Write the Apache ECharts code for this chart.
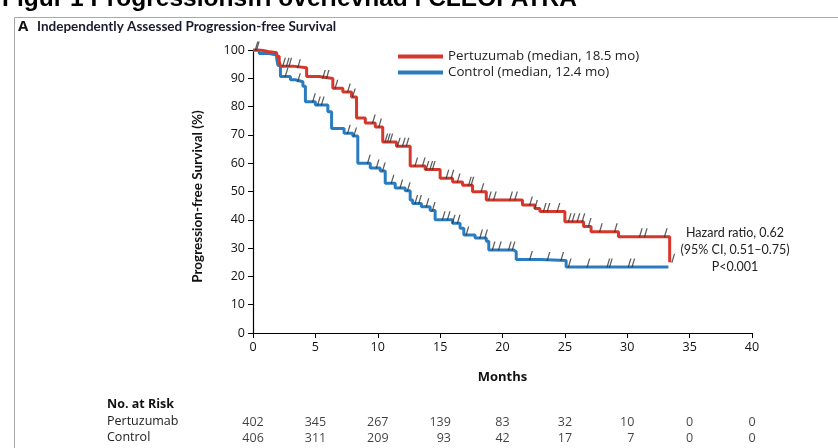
<!DOCTYPE html>
<html><head><meta charset="utf-8">
<script src="https://cdn.jsdelivr.net/npm/echarts@6/dist/echarts.min.js"></script>
<style>html,body{margin:0;padding:0;background:#fff}#c{width:838px;height:448px}</style>
</head><body><div id="c"></div>
<script>
// ---- data ----
const xTicks = [0,5,10,15,20,25,30,35,40];
const yTicks = [0,10,20,30,40,50,60,70,80,90,100];
const pertuzumabKM = [[0,100],[0.6,99.5],[1.2,99.0],[1.9,97.8],[2.1,96.0],[2.2,94.3],[3.2,93.7],[4.3,90.6],[5.3,89.9],[6.4,86.5],[7.2,85.2],[7.9,83.4],[8.3,76.0],[9.0,74.2],[9.8,72.8],[10.4,67.5],[11.5,66.0],[12.6,59.0],[13.8,57.8],[15.0,54.7],[16.0,53.4],[16.8,52.2],[17.6,49.9],[18.7,47.0],[21.6,45.2],[22.6,44.0],[23.0,42.9],[25.0,39.3],[26.5,37.6],[27.1,35.8],[29.3,34.0],[33.4,25.0]];
const controlKM = [[0,100],[0.5,98.8],[1.2,98.2],[1.9,97.0],[2.0,94.5],[2.2,90.6],[3.0,89.5],[3.4,88.8],[4.0,87.2],[4.2,81.7],[5.0,80.6],[6.0,78.2],[6.3,72.3],[7.3,70.6],[8.0,69.6],[8.4,60.0],[9.4,58.3],[10.2,57.2],[10.6,52.9],[11.4,51.2],[12.2,50.3],[12.6,47.0],[12.8,45.8],[13.5,44.6],[14.2,43.3],[14.6,40.0],[16.0,38.8],[16.6,37.0],[16.9,34.6],[17.8,33.6],[18.7,32.4],[18.9,29.3],[20.9,28.7],[21.1,26.0],[23.0,25.6],[25.1,23.3],[33.3,23.3]];
const pertuzumabCensor = [0.3,2.4,2.7,2.9,3.6,5.6,5.9,6.6,7.6,8.0,9.6,10.1,10.6,10.8,11.0,11.6,12.0,12.3,13.0,13.6,13.9,14.2,14.4,15.5,15.9,16.4,17.3,17.5,18.3,18.9,19.3,20.6,21.0,22.2,22.6,23.3,23.6,24.4,25.3,25.6,26.0,26.4,26.9,27.8,29.0,31.0,31.4,33.0,33.6];
const controlCensor = [0.2,2.6,3.6,4.8,5.2,5.5,7.6,8.1,9.2,9.9,10.4,11.1,11.8,12.4,13.0,13.3,13.9,14.4,15.2,15.6,16.0,16.4,17.1,18.2,18.6,19.2,19.7,20.5,20.8,22.2,23.6,24.7,25.3,26.8,28.4,28.6,30.1,30.4];
const riskMonths = [0,5,10,15,20,25,30,35,40];
const riskPertuzumab = [402,345,267,139,83,32,10,0,0];
const riskControl = [406,311,209,93,42,17,7,0,0];
const seriesNames = ['Pertuzumab (median, 18.5 mo)','Control (median, 12.4 mo)'];
const hazardText = ['Hazard ratio, 0.62','(95% CI, 0.51\u20130.75)','P<0.001'];

// ---- helpers ----
function survAt(km, t){ let s = km[0][1]; for (const p of km){ if (p[0] <= t) s = p[1]; } return s; }
const FONT = '"Open Sans"';
const LATO = 'Lato';
const RED = '#d6372b', BLUE = '#2a7cc0';
const tickPath = 'path://M0,10 L1.3,10 L4,0 L2.7,0 Z';
const digitW = 7.2;

const chart = echarts.init(document.getElementById('c'), null, {renderer:'canvas'});
const riskP = riskMonths.map((m,i)=>({value:[m,1.5,riskPertuzumab[i]]}));
const riskC = riskMonths.map((m,i)=>({value:[m,0.5,riskControl[i]],
  label:{offset:[String(riskPertuzumab[i]).length*digitW/2,0]}}));

chart.setOption({
  animation:false,
  textStyle:{fontFamily:FONT},
  grid:[{left:253,top:50,width:499,height:283},{left:253,top:414,width:499,height:32}],
  xAxis:[{type:'value',min:0,max:40,interval:5,gridIndex:0,
    axisLine:{lineStyle:{color:'#000',width:1.2}},axisTick:{length:5,lineStyle:{color:'#000'}},
    axisLabel:{color:'#111',fontSize:12.5,margin:8,fontFamily:FONT},splitLine:{show:false},
    name:'Months',nameLocation:'middle',nameGap:38,nameTextStyle:{fontWeight:'bold',fontSize:13,color:'#111',fontFamily:FONT}},
    {type:'value',min:0,max:40,gridIndex:1,show:false}],
  yAxis:[{type:'value',min:0,max:100,interval:10,gridIndex:0,
    axisLine:{show:true,lineStyle:{color:'#000',width:1.2}},axisTick:{show:true,length:5,lineStyle:{color:'#000'}},
    axisLabel:{color:'#111',fontSize:12.5,margin:8,fontFamily:FONT},splitLine:{show:false},
    name:'Progression-free Survival (%)',nameLocation:'middle',nameRotate:90,nameGap:48,
    nameTextStyle:{fontWeight:'bold',fontSize:13.5,color:'#111',fontFamily:LATO,padding:[0,0,0,-10]}},
    {type:'value',min:0,max:2,gridIndex:1,show:false}],
  legend:{orient:'vertical',left:393,top:45,itemWidth:45,itemHeight:4,itemGap:3,icon:'rect',
    textStyle:{fontSize:13.3,color:'#222',fontFamily:FONT},data:seriesNames},
  series:[
    {name:seriesNames[0],type:'line',step:'end',data:pertuzumabKM,showSymbol:false,lineStyle:{color:RED,width:3},itemStyle:{color:RED},z:3},
    {name:seriesNames[1],type:'line',step:'end',data:controlKM,showSymbol:false,lineStyle:{color:BLUE,width:3},itemStyle:{color:BLUE},z:2},
    {type:'scatter',data:pertuzumabCensor.map(t=>[t,survAt(pertuzumabKM,t)]),symbol:tickPath,symbolSize:[4,9],symbolOffset:[1,-4],itemStyle:{color:'#333'},z:5,silent:true},
    {type:'scatter',data:controlCensor.map(t=>[t,survAt(controlKM,t)]),symbol:tickPath,symbolSize:[4,9],symbolOffset:[1,-4],itemStyle:{color:'#333'},z:5,silent:true},
    {type:'scatter',xAxisIndex:1,yAxisIndex:1,data:riskP,symbolSize:0,
      label:{show:true,position:'inside',formatter:p=>String(p.value[2]),fontSize:12.5,color:'#111',fontFamily:FONT,align:'center'}},
    {type:'scatter',xAxisIndex:1,yAxisIndex:1,data:riskC,symbolSize:0,
      label:{show:true,position:'inside',fontSize:12.5,color:'#111',fontFamily:FONT,align:'right',
        formatter:p=>String(p.value[2])}}
  ],
  graphic:[
    {type:'rect',shape:{x:14.5,y:17.5,width:900,height:500},style:{fill:'none',stroke:'#a8a8a8',lineWidth:1},silent:true},
    {type:'text',left:2,top:-13,style:{text:'Figur 1 Progressionsfri \u00f6verlevnad i CLEOPATRA',font:'bold 24.5px "Liberation Sans", Arial',fill:'#000'}},
    {type:'text',left:18,top:19,style:{text:'A',font:'bold 15px '+FONT,fill:'#111'}},
    {type:'text',left:37,top:20,style:{text:'Independently Assessed Progression-free Survival',font:'bold 13.5px '+LATO,fill:'#1a1a2e'}},
    {type:'text',x:735,y:224,style:{text:hazardText.join('\n'),font:'12.5px '+LATO,fill:'#222',align:'center',lineHeight:17}},
    {type:'text',left:107,top:398,style:{text:'No. at Risk',font:'bold 12.5px '+FONT,fill:'#111'}},
    {type:'text',left:107,top:415,style:{text:'Pertuzumab',font:'12.5px '+FONT,fill:'#222'}},
    {type:'text',left:107,top:431,style:{text:'Control',font:'12.5px '+FONT,fill:'#222'}}
  ]
});
</script></body></html>
